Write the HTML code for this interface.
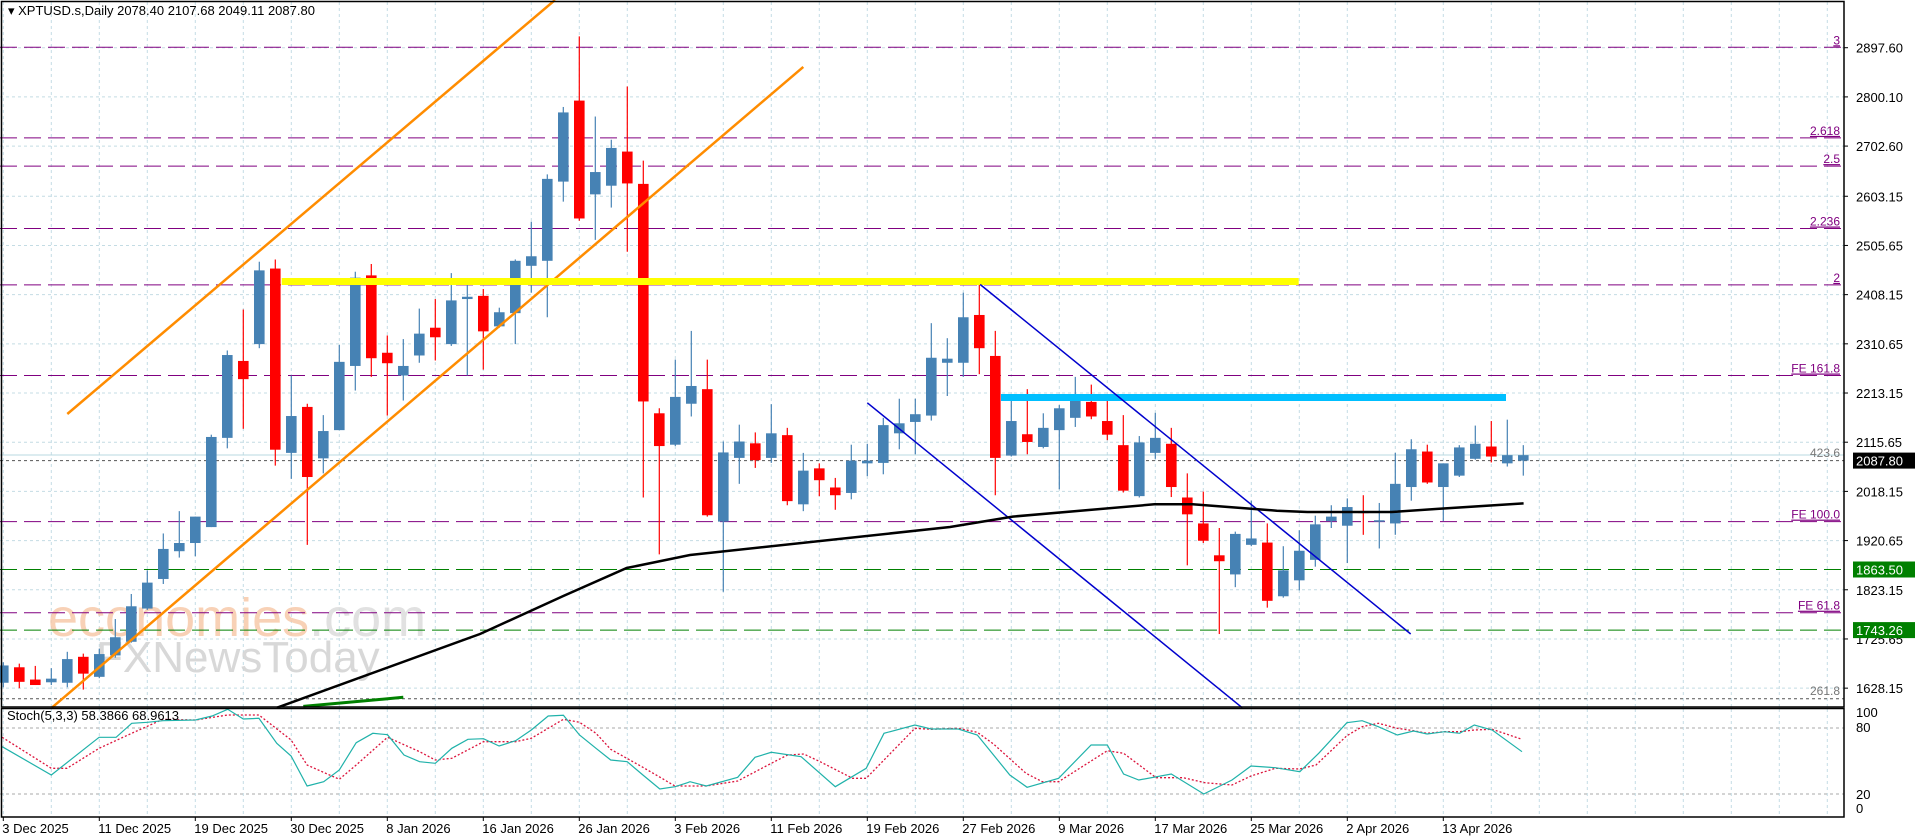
<!DOCTYPE html>
<html><head><meta charset="utf-8"><style>
html,body{margin:0;padding:0;background:#fff;}
svg{display:block;}
text{font-family:"Liberation Sans",sans-serif;}
</style></head><body>
<svg id="s" width="1916" height="840" viewBox="0 0 1916 840" xmlns="http://www.w3.org/2000/svg">
<rect width="1916" height="840" fill="#fff"/>
<g id="grid"></g>
<g id="wm">
<text x="48" y="636" font-size="54" fill="#f7c9aa" opacity="0.85">economies<tspan fill="#dcdcdc">.com</tspan></text>
<text x="96" y="672" font-size="44" fill="#d4d4d4" opacity="0.9">FXNewsToday</text>
</g>
<g id="lv"></g>
<g id="cd"></g>
<g id="ov"></g>
<g id="ax"></g>
</svg>
<script>
var NS="http://www.w3.org/2000/svg";
function el(p,t,a,txt){var e=document.createElementNS(NS,t);for(var k in a)e.setAttribute(k,a[k]);if(txt!==undefined)e.textContent=txt;document.getElementById(p).appendChild(e);return e;}
var R=1844;
function py(p){return 96.9+(2800.1-p)*0.5045;}
for(var j=0;j<40;j++){var x=3.3+48*j;if(x>R)break;
 el("grid","line",{x1:x,y1:2,x2:x,y2:707,stroke:"#c4dce4","stroke-dasharray":"3,3","stroke-width":1});
 el("grid","line",{x1:x,y1:709,x2:x,y2:817,stroke:"#c4dce4","stroke-dasharray":"3,3","stroke-width":1});}
var pl=[2897.60,2800.10,2702.60,2603.15,2505.65,2408.15,2310.65,2213.15,2115.65,2018.15,1920.65,1823.15,1725.65,1628.15];
pl.forEach(function(v){var y=py(v);
 el("grid","line",{x1:0,y1:y,x2:R,y2:y,stroke:"#c4dce4","stroke-dasharray":"3,3"});
 el("ax","line",{x1:R,y1:y,x2:R+4,y2:y,stroke:"#000"});
 el("ax","text",{x:1856,y:y+5,"font-size":13,fill:"#000"},v.toFixed(2));});
var fib=[[47.3,"3"],[137.9,"2.618"],[166.1,"2.5"],[228.5,"2.236"],[284.9,"2"],[375.5,"FE 161.8"],[521.6,"FE 100.0"],[612.7,"FE 61.8"]];
fib.forEach(function(f){el("lv","line",{x1:0,y1:f[0],x2:R,y2:f[0],stroke:"#800080","stroke-dasharray":"17,7","stroke-width":1});
 el("lv","text",{x:R-4,y:f[0]-3,"font-size":12,fill:"#800080","text-anchor":"end","text-decoration":"underline"},f[1]);});
[[569.5],[630.1]].forEach(function(g){el("lv","line",{x1:0,y1:g[0],x2:R,y2:g[0],stroke:"#008000","stroke-dasharray":"17,7"});});
el("lv","line",{x1:0,y1:455,x2:R,y2:455,stroke:"#b8d8e0","stroke-width":1});
el("lv","line",{x1:0,y1:460.6,x2:R,y2:460.6,stroke:"#555","stroke-dasharray":"3,3"});
el("lv","text",{x:R-4,y:457,"font-size":12,fill:"#777","text-anchor":"end"},"423.6");
el("lv","line",{x1:0,y1:698.7,x2:R,y2:698.7,stroke:"#555","stroke-dasharray":"3,3"});
el("lv","text",{x:R-4,y:695,"font-size":12,fill:"#777","text-anchor":"end"},"261.8");
var C=[[1,1455,1462,1500,1510],[0,1458,1466,1498,1512],[0,1463,1493,1505,1505],[1,1468,1491,1499,1505],[1,1432,1448,1500,1510],[0,1436,1443,1480,1515],[1,1425,1437,1487,1490],[1,1360,1400,1440,1445],[1,1305,1332,1410,1412],[1,1253,1280,1337,1340],
[1,1172,1206,1272,1283],[1,1123,1193,1211,1225],[1,1135,1135,1193,1222],[1,955,960,1158,1158],[1,770,780,962,985],[0,680,793,833,942],[1,575,594,756,765],[0,570,590,988,1023],[1,825,914,995,1052],[0,887,894,1048,1197],
[1,912,947,1007,1040],[1,758,795,945,945],[1,597,610,804,858],[0,580,605,787,828],[0,737,775,798,913],[1,745,804,825,880],[1,678,733,781,797],[0,657,720,741,792],[1,600,660,756,760],[1,616,652,657,825],
[0,635,650,728,812],[1,676,686,717,720],[1,570,573,688,756],[1,487,563,584,643],[1,383,393,573,697],[1,235,247,399,443],[0,80,221,480,485],[1,256,378,427,527],[1,307,325,408,456],[0,190,333,403,553],
[0,353,404,882,1093],[0,897,908,980,1218],[1,790,872,977,980],[1,727,848,887,915],[0,790,855,1132,1135],[1,970,994,1146,1300],[1,933,970,1006,1063],[0,950,974,1011,1028],[1,888,952,1006,1017],[0,940,956,1101,1110],
[1,995,1034,1108,1123],[0,1018,1029,1055,1090],[0,1050,1071,1088,1120],[1,977,1012,1083,1097],[1,975,1012,1018,1046],[1,918,934,1017,1042],[1,876,930,952,987],[1,876,910,927,998],[1,710,786,913,924],[1,743,788,797,870],
[1,643,697,797,828],[0,623,692,765,822],[0,727,782,1006,1088],[1,880,925,1001,1003],[0,855,954,971,998],[1,908,940,982,985],[1,890,897,945,1075],[1,828,876,918,938],[0,845,883,915,921],[0,875,925,955,967],
[0,912,978,1078,1082],[1,958,972,1090,1093],[1,907,962,995,1008],[0,940,975,1070,1092],[0,1040,1093,1130,1242],[0,1080,1150,1188,1193],[0,1160,1220,1233,1393],[1,1168,1173,1262,1290],[1,1100,1183,1197,1200],[0,1150,1192,1320,1335],
[1,1200,1253,1310,1313],[1,1165,1210,1275,1297],[1,1133,1152,1230,1245],[1,1110,1135,1145,1160],[1,1095,1114,1155,1237],[0,1088,1124,1127,1175],[1,1105,1143,1146,1205],[1,995,1063,1150,1175],[1,965,987,1070,1100],[0,977,992,1060,1063],
[1,1018,1018,1070,1145],[1,978,983,1045,1048],[1,935,975,1008,1010],[0,925,981,1003,1016],[1,922,1000,1018,1025],[1,978,1000,1012,1045]];
var f=2.197;
C.forEach(function(c,k){var x=3.3+16*k,col=c[0]?"#4682B4":"#FF0000";
 el("cd","line",{x1:x,y1:c[1]/f,x2:x,y2:c[4]/f,stroke:col,"stroke-width":1.2});
 var t=c[2]/f,b=Math.max(c[3]/f,t+1.5);
 el("cd","rect",{x:x-5.3,y:t,width:10.6,height:b-t,fill:col});});
function ln(a,b,c,d,col,w){el("ov","line",{x1:a,y1:b,x2:c,y2:d,stroke:col,"stroke-width":w});}
ln(67.3,414,555,0,"#FF8C00",2.5);
ln(51.7,707.8,803.3,66.9,"#FF8C00",2.5);
el("ov","rect",{x:281.7,y:278,width:1017,height:7,fill:"#FFFF00"});
el("ov","rect",{x:1001,y:394,width:505,height:7,fill:"#00BFFF"});
ln(980.2,284.5,1410.7,634,"#0000CD",1.5);
ln(867.3,402.8,1242.3,707.8,"#0000CD",1.5);
el("ov","polyline",{points:"276.7,707.8 480,634 563.3,596 626.7,568 690,555 950,527 1012.7,516.6 1154.3,504.3 1192.6,504.3 1276.8,510.7 1307.4,512 1391.6,512 1437.5,508.9 1523.6,503.4",fill:"none",stroke:"#000","stroke-width":2.5});
ln(303.3,706.4,403.3,697.3,"#008000",3);
function pts(a,ox,oy,hx,vy){return a.map(function(p){return (ox+p[0]/hx).toFixed(1)+","+(oy+p[1]/vy).toFixed(1);}).join(" ");}
var m1=[[5,200],[115,285],[222,172],[260,172],[295,130],[330,127],[365,122],[438,120],[475,108],[510,88],[545,117],[580,115],[620,190],[652,228],[688,318],[725,305],[760,270],[798,188],[835,160],[868,164],[905,225],[940,245],[975,250],[1012,205],[1048,178],[1083,176],[1118,198],[1155,182],[1190,150],[1228,108],[1262,106],[1298,165],[1335,205],[1368,240],[1405,245],[1440,285],[1478,327],[1512,320],[1540,308]];
var m2=[[0,245],[30,258],[88,232],[120,172],[150,157],[205,170],[268,260],[325,205],[358,100],[415,75],[445,87],[495,87],[530,105],[590,225],[622,262],[680,235],[740,135],[770,135],[800,222],[828,240],[888,222],[948,282],[1000,240],[1035,198],[1080,203],[1125,215],[1160,160],[1212,68],[1240,62],[1270,80],[1305,105],[1335,93],[1360,102],[1392,95],[1420,100],[1447,75],[1480,90],[1535,155]];
var s1=[[5,172],[115,265],[150,265],[222,205],[295,160],[365,118],[438,120],[510,105],[580,105],[652,180],[688,255],[760,298],[798,255],[868,172],[940,215],[975,240],[1012,235],[1083,185],[1155,185],[1190,175],[1262,118],[1298,127],[1335,160],[1368,208],[1440,262],[1512,318],[1540,318]];
var s2=[[0,258],[30,258],[88,243],[150,190],[180,165],[210,162],[240,185],[300,235],[325,235],[358,180],[415,85],[445,88],[495,85],[530,97],[560,132],[620,220],[650,245],[680,245],[740,183],[770,152],[800,160],[860,233],[910,233],[950,248],[1000,255],[1035,228],[1080,205],[1125,207],[1155,195],[1212,107],[1240,80],[1270,70],[1305,85],[1335,92],[1360,100],[1392,95],[1420,95],[1447,90],[1480,88],[1535,118]];
el("ov","line",{x1:0,y1:728,x2:R,y2:728,stroke:"#aaa","stroke-dasharray":"3,3"});
el("ov","line",{x1:0,y1:794,x2:R,y2:794,stroke:"#aaa","stroke-dasharray":"3,3"});
el("ov","polyline",{points:pts(s1,0,680,2.24,3)+" "+pts(s2,690,700,1.845,3),fill:"none",stroke:"#DC143C","stroke-width":1.3,"stroke-dasharray":"2,2"});
el("ov","polyline",{points:pts(m1,0,680,2.24,3)+" "+pts(m2,690,700,1.845,3),fill:"none",stroke:"#20B2AA","stroke-width":1.2});
el("ax","rect",{x:1.5,y:1.5,width:R-1.5,height:705.5,fill:"none",stroke:"#000","stroke-width":1.5});
el("ax","rect",{x:1.5,y:708.5,width:R-1.5,height:108.5,fill:"none",stroke:"#000","stroke-width":1.5});
[[2087.80,460.6,"#000"],[1863.50,569.5,"#008000"],[1743.26,630.1,"#008000"]].forEach(function(b){
 el("ax","rect",{x:1853,y:b[1]-8,width:62,height:16,fill:b[2]});
 el("ax","text",{x:1856,y:b[1]+5,"font-size":13,fill:"#fff"},b[0].toFixed(2));});
[[100,712],[80,727],[20,794],[0,808]].forEach(function(s){el("ax","text",{x:1856,y:s[1]+5,"font-size":13,fill:"#000"},String(s[0]));});
el("ax","text",{x:7,y:720,"font-size":13,fill:"#000"},"Stoch(5,3,3) 58.3866 68.9613");
el("ax","text",{x:8,y:15,"font-size":13,fill:"#000"},"▾ XPTUSD.s,Daily  2078.40 2107.68 2049.11 2087.80");
var D=["3 Dec 2025","11 Dec 2025","19 Dec 2025","30 Dec 2025","8 Jan 2026","16 Jan 2026","26 Jan 2026","3 Feb 2026","11 Feb 2026","19 Feb 2026","27 Feb 2026","9 Mar 2026","17 Mar 2026","25 Mar 2026","2 Apr 2026","13 Apr 2026"];
D.forEach(function(d,i){var x=3.3+96*i;el("ax","line",{x1:x,y1:817,x2:x,y2:821,stroke:"#000"});
 el("ax","text",{x:x-1,y:833,"font-size":13,fill:"#000"},d);});
</script>
</body></html>
